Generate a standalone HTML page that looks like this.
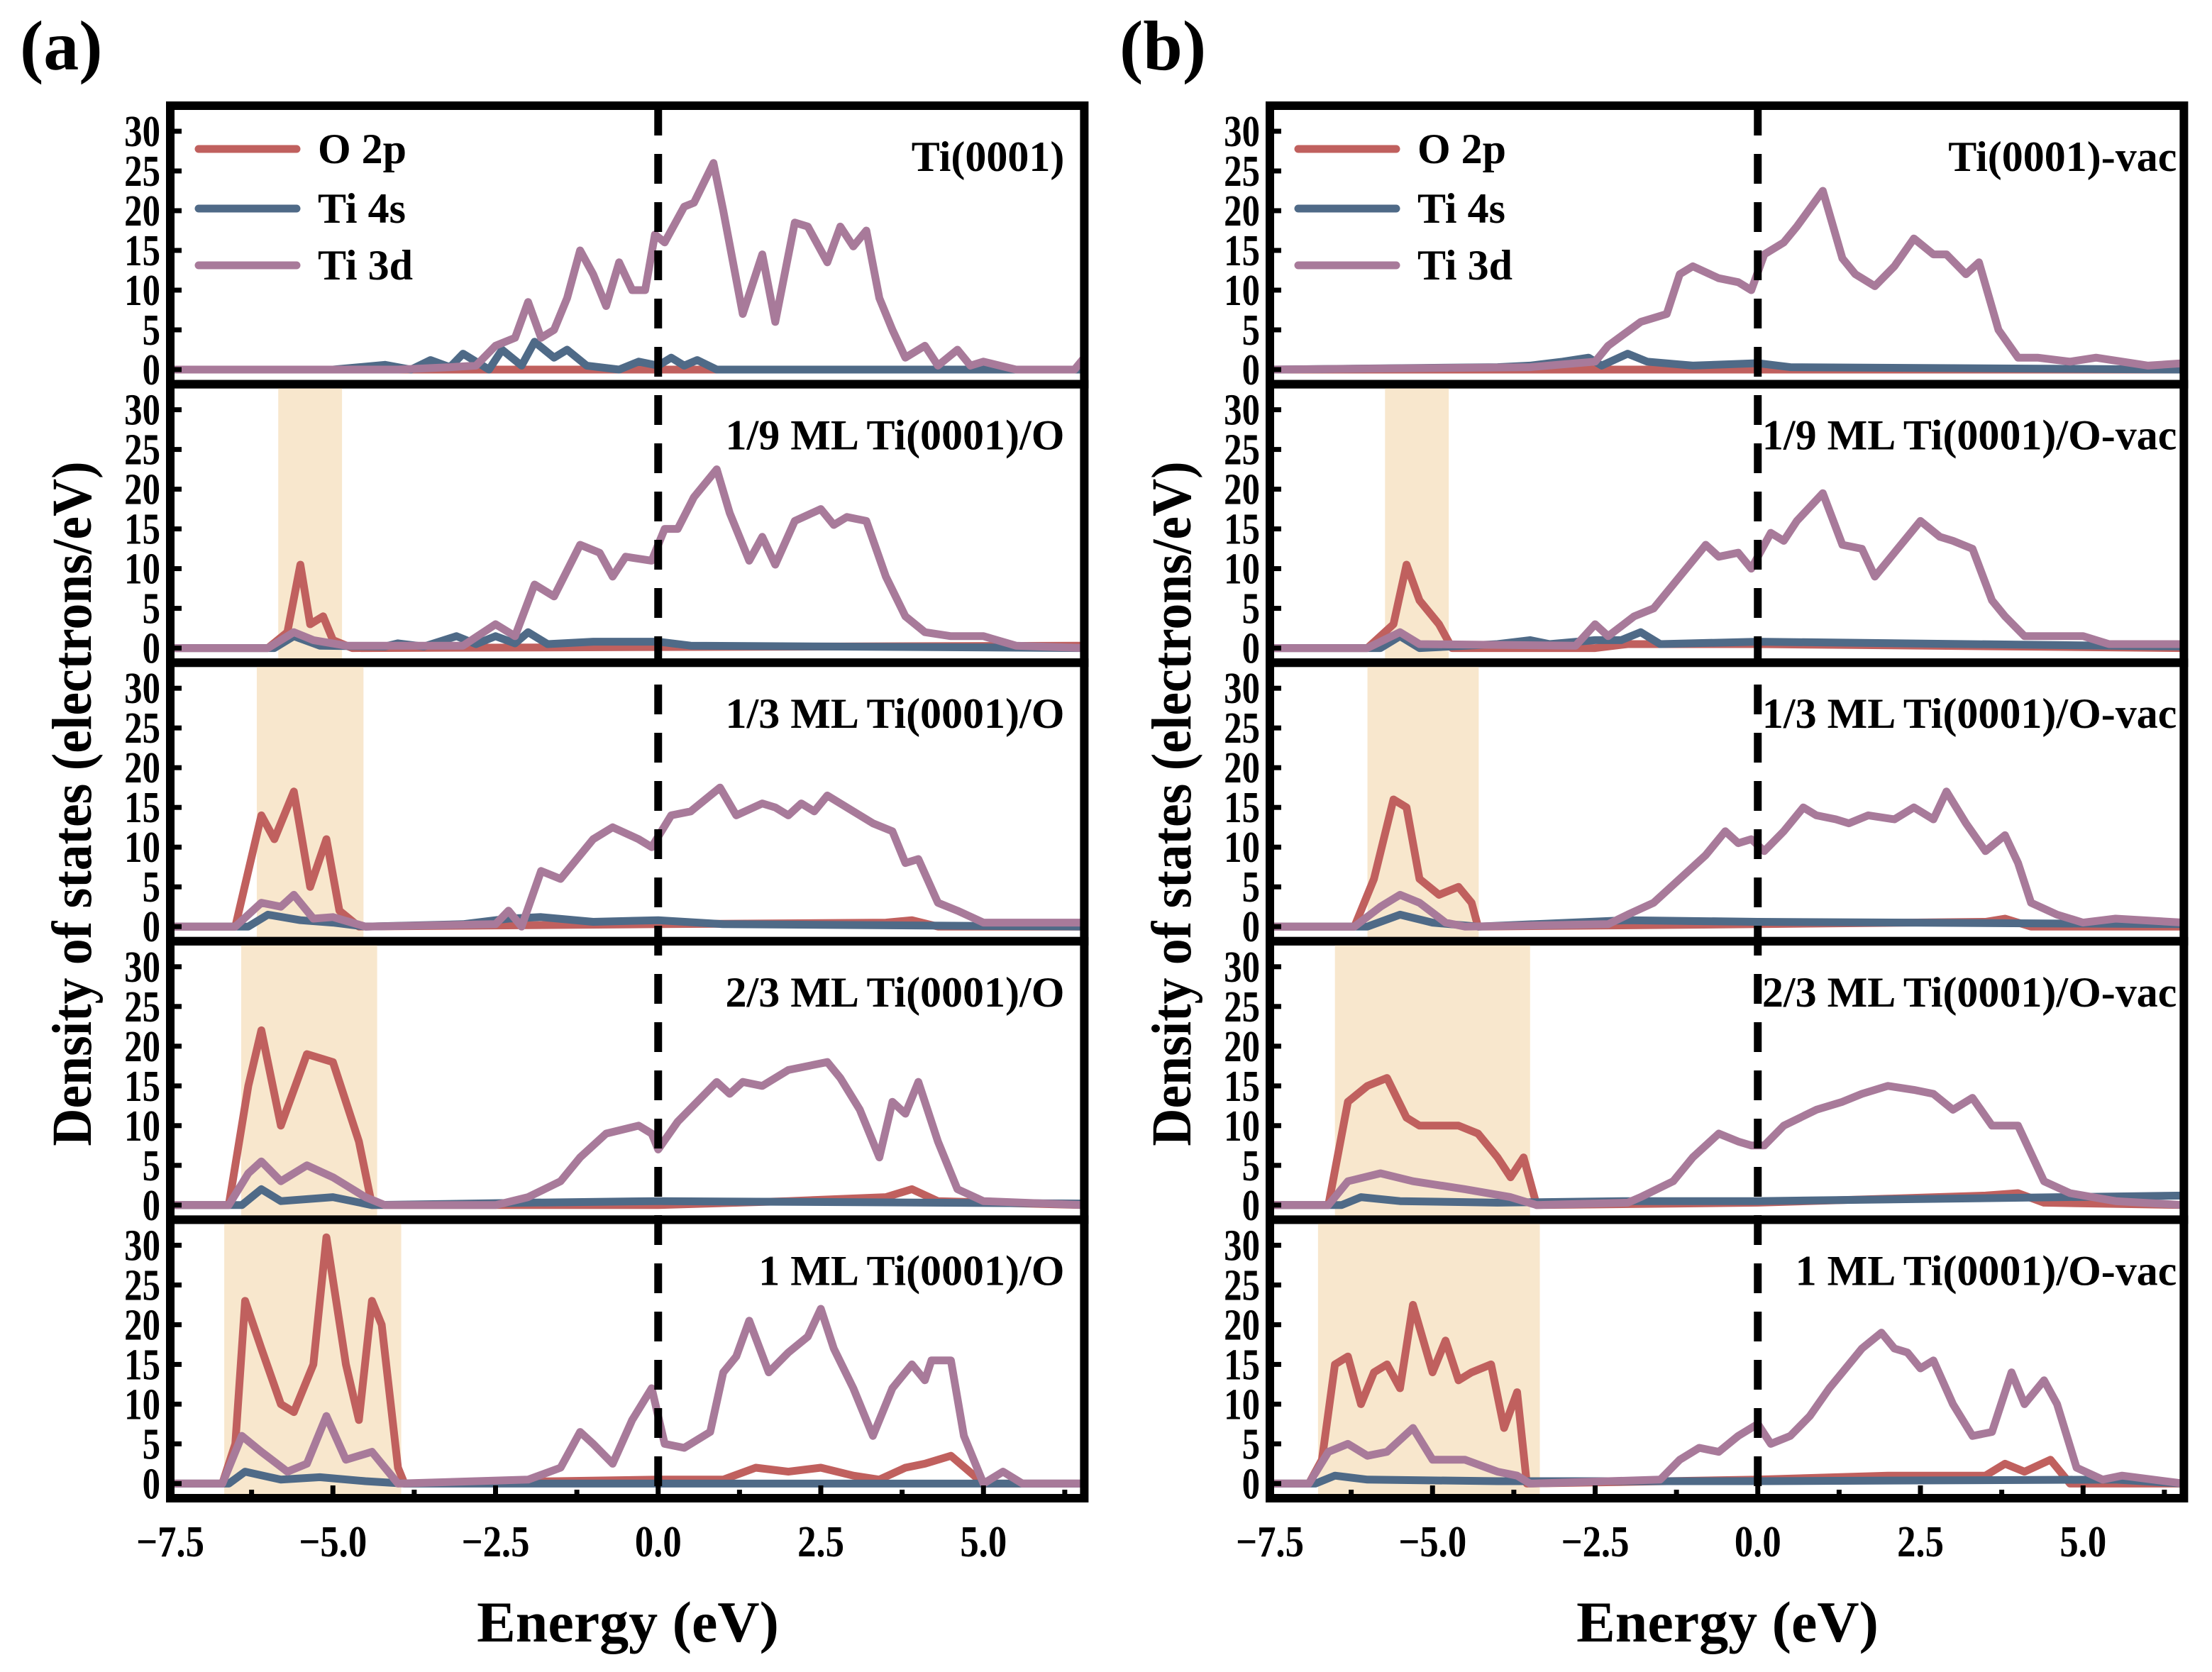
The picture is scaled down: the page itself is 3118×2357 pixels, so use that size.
<!DOCTYPE html>
<html><head><meta charset="utf-8"><style>
html,body{margin:0;padding:0;background:#fff;}
svg{display:block;}
text{font-family:"Liberation Serif",serif;font-weight:bold;fill:#000;}
</style></head>
<body>
<svg id="fig" xmlns="http://www.w3.org/2000/svg" width="3118" height="2357" viewBox="0 0 3118 2357">
<g id="root"></g>
</svg>
<script>
// ---- data ----
const yTicks = [0,5,10,15,20,25,30];
const xTicks = [-7.5,-5.0,-2.5,0.0,2.5,5.0];
const xTickLabels = ["\u22127.5","\u22125.0","\u22122.5","0.0","2.5","5.0"];
const legendNames = ["O 2p","Ti 4s","Ti 3d"];
const panelTitlesA = ["Ti(0001)","1/9 ML Ti(0001)/O","1/3 ML Ti(0001)/O","2/3 ML Ti(0001)/O","1 ML Ti(0001)/O"];
const panelTitlesB = ["Ti(0001)-vac","1/9 ML Ti(0001)/O-vac","1/3 ML Ti(0001)/O-vac","2/3 ML Ti(0001)/O-vac","1 ML Ti(0001)/O-vac"];
const shadeA = [null,[-5.84,-4.86],[-6.17,-4.53],[-6.41,-4.32],[-6.67,-3.95]];
const shadeB = [null,[-5.73,-4.75],[-6.0,-4.29],[-6.5,-3.5],[-6.76,-3.35]];

const a1_O = [[-7.5,0],[6.55,0]];
const a1_s = [[-7.5,0],[-5,0],[-4.2,0.6],[-3.8,0],[-3.5,1.2],[-3.2,0.3],[-3.0,2],[-2.6,0],[-2.4,2.5],[-2.1,0.5],[-1.9,3.5],[-1.6,1.5],[-1.4,2.5],[-1.1,0.5],[-0.6,0],[-0.3,1],[0,0.5],[0.2,1.5],[0.4,0.5],[0.6,1.2],[0.9,0],[6.55,0]];
const a1_d = [[-7.5,0],[-4,0],[-3.2,0.3],[-2.8,0.5],[-2.5,3],[-2.2,4],[-2.0,8.5],[-1.8,4],[-1.6,5],[-1.4,9],[-1.2,15],[-1.0,12],[-0.8,8],[-0.6,13.5],[-0.4,10],[-0.2,10],[-0.05,17],[0.1,16],[0.4,20.5],[0.55,21],[0.85,26],[1.0,20],[1.3,7],[1.6,14.5],[1.8,6],[2.1,18.5],[2.3,18],[2.6,13.5],[2.8,18],[3.0,15.5],[3.2,17.5],[3.4,9],[3.6,5],[3.8,1.5],[4.1,3],[4.3,0.5],[4.6,2.5],[4.8,0.5],[5.0,1],[5.5,0],[6.4,0],[6.55,1.5]];

const a2_O = [[-7.5,0],[-6,0],[-5.7,2],[-5.5,10.5],[-5.35,3],[-5.15,4],[-5,1],[-4.7,0],[6.55,0.3]];
const a2_s = [[-7.5,0],[-5.9,0],[-5.6,1.5],[-5.2,0.3],[-4.2,0.2],[-4.0,0.6],[-3.6,0.2],[-3.1,1.5],[-2.8,0.5],[-2.5,1.5],[-2.2,0.6],[-2.0,2],[-1.7,0.5],[-1,0.8],[0,0.8],[0.5,0.3],[6.55,0]];
const a2_d = [[-7.5,0],[-6,0],[-5.6,2],[-5.3,1],[-4.8,0.3],[-3,0.3],[-2.5,3],[-2.2,1.5],[-1.9,8],[-1.6,6.5],[-1.2,13],[-0.9,12],[-0.7,9],[-0.5,11.5],[-0.1,11],[0.1,15],[0.3,15],[0.55,19],[0.9,22.5],[1.1,17],[1.4,11],[1.6,14],[1.8,10.5],[2.1,16],[2.5,17.5],[2.7,15.5],[2.9,16.5],[3.2,16],[3.5,9],[3.8,4],[4.1,2],[4.5,1.5],[5,1.5],[5.5,0.3],[6.55,0]];

const a3_O = [[-7.5,0],[-6.5,0],[-6.1,14],[-5.9,11],[-5.6,17],[-5.35,5],[-5.1,11],[-4.9,2],[-4.6,0],[0,0.3],[3.5,0.5],[3.9,0.8],[4.3,0],[6.55,0]];
const a3_s = [[-7.5,0],[-6.3,0],[-6.0,1.5],[-5.5,0.8],[-5,0.5],[-4.5,0],[-3,0.3],[-2.3,1],[-1.8,1.2],[-1,0.6],[0,0.8],[1,0.3],[6.55,0]];
const a3_d = [[-7.5,0],[-6.5,0],[-6.1,3],[-5.8,2.5],[-5.6,4],[-5.3,1],[-5.0,1.2],[-4.5,0],[-2.5,0.3],[-2.3,2],[-2.1,0],[-1.8,7],[-1.5,6],[-1.0,11],[-0.7,12.5],[-0.3,11],[-0.1,10],[0.2,14],[0.5,14.5],[0.95,17.5],[1.2,14],[1.6,15.5],[1.8,15],[2.0,14],[2.2,15.5],[2.4,14.5],[2.6,16.5],[2.9,15],[3.3,13],[3.6,12],[3.8,8],[4.0,8.5],[4.3,3],[4.6,2],[5,0.5],[6.55,0.5]];

const a4_O = [[-7.5,0],[-6.6,0],[-6.3,15],[-6.1,22],[-5.8,10],[-5.4,19],[-5.0,18],[-4.6,8],[-4.4,0],[0,0],[2,0.5],[3.5,1],[3.9,2],[4.3,0.5],[6.55,0]];
const a4_s = [[-7.5,0],[-6.4,0],[-6.1,2],[-5.8,0.5],[-5,1],[-4.4,0],[-2,0.3],[0,0.5],[6.55,0.2]];
const a4_d = [[-7.5,0],[-6.6,0],[-6.3,4],[-6.1,5.5],[-5.8,3],[-5.4,5],[-5,3.5],[-4.5,1],[-4.2,0],[-2.5,0],[-2,1],[-1.5,3],[-1.2,6],[-0.8,9],[-0.3,10],[-0.1,9],[0,7],[0.3,10.5],[0.9,15.5],[1.1,14],[1.3,15.5],[1.6,15],[2.0,17],[2.6,18],[2.8,16],[3.1,12],[3.4,6],[3.6,13],[3.8,11.5],[4.0,15.5],[4.3,8],[4.6,2],[5,0.5],[6.55,0]];

const a5_O = [[-7.5,0],[-6.7,0],[-6.5,5],[-6.35,23],[-6.1,17],[-5.8,10],[-5.6,9],[-5.3,15],[-5.1,31],[-4.8,15],[-4.6,8],[-4.4,23],[-4.25,20],[-4.0,2],[-3.9,0],[0,0.5],[1,0.5],[1.5,2],[2.0,1.5],[2.5,2],[3,1],[3.4,0.5],[3.8,2],[4.1,2.5],[4.5,3.5],[5,0],[6.55,0]];
const a5_s = [[-7.5,0],[-6.6,0],[-6.35,1.5],[-5.8,0.5],[-5.2,0.8],[-4.5,0.3],[-3.9,0],[6.55,0]];
const a5_d = [[-7.5,0],[-6.7,0],[-6.4,6],[-6.1,4],[-5.7,1.5],[-5.4,2.5],[-5.1,8.5],[-4.8,3],[-4.4,4],[-4.2,2],[-4.0,0],[-2,0.5],[-1.5,2],[-1.2,6.5],[-1.0,5],[-0.7,2.5],[-0.4,8],[-0.1,12],[0.1,5],[0.4,4.5],[0.8,6.5],[1.0,14],[1.2,16],[1.4,20.5],[1.7,14],[2.0,16.5],[2.3,18.5],[2.5,22],[2.7,17],[3.0,12],[3.3,6],[3.6,12],[3.9,15],[4.1,13],[4.2,15.5],[4.5,15.5],[4.7,6],[5.0,0],[5.3,1.5],[5.6,0],[6.55,0]];

const b1_O = [[-7.5,0],[6.55,0]];
const b1_s = [[-7.5,0],[-4,0.3],[-3.5,0.5],[-3,1],[-2.6,1.5],[-2.4,0.5],[-2,2],[-1.7,1],[-1,0.5],[0,0.8],[0.5,0.3],[6.55,0]];
const b1_d = [[-7.5,0],[-3.5,0.3],[-2.5,1],[-2.3,3],[-1.8,6],[-1.4,7],[-1.2,12],[-1.0,13],[-0.6,11.5],[-0.3,11],[-0.1,10],[0.1,14.5],[0.4,16],[0.6,18],[1.0,22.5],[1.3,14],[1.5,12],[1.8,10.5],[2.1,13],[2.4,16.5],[2.7,14.5],[2.9,14.5],[3.2,12],[3.4,13.5],[3.7,5],[4.0,1.5],[4.3,1.5],[4.8,1],[5.2,1.5],[6,0.5],[6.55,0.8]];

const b2_O = [[-7.5,0],[-6,0],[-5.6,3],[-5.4,10.5],[-5.2,6],[-4.9,3],[-4.7,0],[-2.5,0],[-2,0.5],[0,0.5],[6.55,0]];
const b2_s = [[-7.5,0],[-5.8,0],[-5.5,1.5],[-5.2,0],[-4,0.5],[-3.5,1],[-3.2,0.5],[-2.5,1],[-2.1,1],[-1.8,2],[-1.5,0.5],[0,0.8],[6.55,0.2]];
const b2_d = [[-7.5,0],[-6,0],[-5.5,2],[-5.2,0.5],[-2.8,0.3],[-2.5,3],[-2.3,1.5],[-1.9,4],[-1.6,5],[-1.2,9],[-0.8,13],[-0.6,11.5],[-0.3,12],[-0.1,10],[0.2,14.5],[0.4,13.5],[0.6,16],[1.0,19.5],[1.3,13],[1.6,12.5],[1.8,9],[2.1,12],[2.5,16],[2.8,14],[3.0,13.5],[3.3,12.5],[3.6,6],[3.8,4],[4.1,1.5],[4.6,1.5],[5.0,1.5],[5.4,0.5],[6.55,0.5]];

const b3_O = [[-7.5,0],[-6.2,0],[-5.9,6],[-5.6,16],[-5.4,15],[-5.2,6],[-4.9,4],[-4.6,5],[-4.4,3],[-4.3,0],[0,0.3],[3.5,0.6],[3.8,1],[4.2,0],[6.55,0]];
const b3_s = [[-7.5,0],[-6,0],[-5.5,1.5],[-5,0.5],[-4.3,0],[-2,0.8],[0,0.6],[6.55,0.3]];
const b3_d = [[-7.5,0],[-6.2,0],[-5.8,2.5],[-5.5,4],[-5.2,3],[-4.8,0.5],[-4.5,0],[-2.3,0.3],[-2.0,1.5],[-1.6,3],[-1.2,6],[-0.8,9],[-0.5,12],[-0.3,10.5],[-0.1,11],[0.1,9.5],[0.4,12],[0.7,15],[0.9,14],[1.2,13.5],[1.4,13],[1.7,14],[2.1,13.5],[2.4,15],[2.7,13.5],[2.9,17],[3.2,13],[3.5,9.5],[3.8,11.5],[4.0,8],[4.2,3],[4.6,1.5],[5,0.5],[5.5,1],[6.55,0.5]];

const b4_O = [[-7.5,0],[-6.6,0],[-6.3,13],[-6.0,15],[-5.7,16],[-5.4,11],[-5.2,10],[-4.9,10],[-4.6,10],[-4.3,9],[-4.0,6],[-3.8,3.5],[-3.6,6],[-3.4,0],[0,0.3],[2,0.8],[3.5,1.2],[4.0,1.5],[4.4,0.3],[6.55,0]];
const b4_s = [[-7.5,0],[-6.4,0],[-6.1,1],[-5.5,0.5],[-4,0.3],[-2,0.5],[0,0.5],[6.55,1.2]];
const b4_d = [[-7.5,0],[-6.6,0],[-6.3,3],[-5.8,4],[-5.3,3],[-4.5,2],[-3.8,1],[-3.4,0],[-2,0.3],[-1.8,1],[-1.3,3],[-1.0,6],[-0.6,9],[-0.3,8],[-0.1,7.5],[0.1,7.5],[0.4,10],[0.9,12],[1.3,13],[1.6,14],[2.0,15],[2.4,14.5],[2.7,14],[3.0,12],[3.3,13.5],[3.6,10],[4.0,10],[4.4,3],[4.8,1.5],[5.5,0.5],[6.55,0]];

const b5_O = [[-7.5,0],[-6.9,0],[-6.7,3],[-6.5,15],[-6.3,16],[-6.1,10],[-5.9,14],[-5.7,15],[-5.5,12],[-5.3,22.5],[-5.0,14],[-4.8,18],[-4.6,13],[-4.4,14],[-4.1,15],[-3.9,7],[-3.7,11.5],[-3.55,0],[0,0.5],[2,1],[3.5,1],[3.8,2.5],[4.1,1.5],[4.5,3],[4.8,0],[6.55,0]];
const b5_s = [[-7.5,0],[-6.8,0],[-6.5,1],[-6,0.5],[-4,0.3],[0,0.3],[5.5,0.5],[6.55,0]];
const b5_d = [[-7.5,0],[-6.9,0],[-6.6,4],[-6.3,5],[-6.0,3.5],[-5.7,4],[-5.3,7],[-5.0,3],[-4.5,3],[-4,1.5],[-3.7,1],[-3.5,0],[-1.5,0.5],[-1.2,3],[-0.9,4.5],[-0.6,4],[-0.3,6],[0,7.5],[0.2,5],[0.5,6],[0.8,8.5],[1.1,12],[1.3,14],[1.6,17],[1.9,19],[2.1,17],[2.3,16.5],[2.5,14.5],[2.7,15.5],[3.0,10],[3.3,6],[3.6,6.5],[3.9,14],[4.1,10],[4.4,13],[4.6,10],[4.9,2],[5.3,0.5],[5.6,1],[6.55,0]];

const seriesA = [[a1_O,a1_s,a1_d],[a2_O,a2_s,a2_d],[a3_O,a3_s,a3_d],[a4_O,a4_s,a4_d],[a5_O,a5_s,a5_d]];
const seriesB = [[b1_O,b1_s,b1_d],[b2_O,b2_s,b2_d],[b3_O,b3_s,b3_d],[b4_O,b4_s,b4_d],[b5_O,b5_s,b5_d]];

// ---- layout ----
const NS = "http://www.w3.org/2000/svg";
const root = document.getElementById('root');
const colors = ["#c0605e","#4f6a87","#a87a9a"];
const PTOP = 149, PITCH = 392.6, XMIN = -7.5, XMAX = 6.55, UNIT = 91.7;
const panelsLeft = [240, 1790];
function mk(tag, attrs, parent){ const e=document.createElementNS(NS,tag); for(const k in attrs) e.setAttribute(k,attrs[k]); (parent||root).appendChild(e); return e; }
function xs(e, left){ return left + (e - XMIN) * UNIT; }
function ys(v, i){ return PTOP + i*PITCH + 372 - v*(336/30); }
function pathFrom(pts, left, i){
  return pts.map((p,k)=>(k?"L":"M")+xs(p[0],left).toFixed(1)+","+ys(p[1],i).toFixed(1)).join(" ");
}
function condText(parent, x, y, str, size, anchor, sx){
  const t = mk('text',{x:0,y:0,'text-anchor':anchor,'font-size':size,transform:'translate('+x+','+y+') scale('+sx+',1)'},parent);
  t.textContent = str;
  return t;
}

[[panelsLeft[0],panelTitlesA,shadeA,seriesA,'a'],[panelsLeft[1],panelTitlesB,shadeB,seriesB,'b']].forEach(([left,titles,shades,series,tag])=>{
  const right = xs(XMAX,left);
  const W = right-left;
  const g = mk('g',{});
  
  
  for(let i=0;i<5;i++){
    const top = PTOP + i*PITCH, H = PITCH;
    const pg = mk('g',{},g);
    
    
    const cid = 'clip'+tag+i;
    const cp = mk('clipPath',{id:cid},pg);
    mk('rect',{x:left,y:top,width:W,height:H},cp);
    if(shades[i]){
      const r = mk('rect',{x:xs(shades[i][0],left),y:top,width:xs(shades[i][1],left)-xs(shades[i][0],left),height:H,fill:"#f8e7cd"},pg);
      
      
    }
    const lg = mk('g',{'clip-path':'url(#'+cid+')'},pg);
    [0,1,2].forEach(s=>{
      const p = mk('path',{d:pathFrom(series[i][s],left,i),fill:'none',stroke:colors[s],'stroke-width':11,'stroke-linejoin':'round','stroke-linecap':'round'},lg);
      
      
    });
    yTicks.forEach(v=>{
      mk('line',{x1:left,x2:left+16,y1:ys(v,i),y2:ys(v,i),stroke:'#000','stroke-width':7},pg);
      const t = condText(pg, left-14, ys(v,i)+21, String(v), 62, 'end', 0.82);
      
      
    });
    const tt = mk('text',{x: tag==='a'? right-28 : right-10, y: top+92,'text-anchor':'end','font-size':60},pg);
    tt.textContent = titles[i];
    
    
    mk('rect',{x:left,y:top,width:W,height:H,fill:'none',stroke:'#000','stroke-width':12},pg);
  }
  const z = mk('line',{x1:xs(0,left),x2:xs(0,left),y1:PTOP,y2:PTOP+5*PITCH,stroke:'#000','stroke-width':11,'stroke-dasharray':'42,26'},g);
  
  
  const bottom = PTOP+5*PITCH;
  for(let e=-6.25;e<=6.3;e+=1.25){
    const major = Math.abs(e/2.5-Math.round(e/2.5))<1e-6;
    mk('line',{x1:xs(e,left),x2:xs(e,left),y1:bottom,y2:bottom-(major?18:12),stroke:'#000','stroke-width':7},g);
  }
  xTicks.forEach((e,k)=>{
    const t = condText(g, xs(e,left), bottom+82, xTickLabels[k], 62, 'middle', 0.85);
    
    
  });
  const xt = mk('text',{x:left+645,y:2314,'text-anchor':'middle','font-size':82},g);
  xt.textContent = 'Energy (eV)';
  
  
  const yt = mk('text',{x:0,y:0,'text-anchor':'middle','font-size':80,transform:'translate('+(left-112)+',1133) rotate(-90) scale(0.92,1)'},g);
  yt.textContent = 'Density of states (electrons/eV)';
  
  
  const pl = mk('text',{x:left-212,y:98,'font-size':100},g);
  pl.textContent = '('+tag+')';
  
  
  const leg = mk('g',{},g);
  
  
  const ly = [210,294,374];
  [0,1,2].forEach(s=>{
    const e = mk('g',{},leg);
    
    
    mk('line',{x1:left+40,x2:left+178,y1:ly[s],y2:ly[s],stroke:colors[s],'stroke-width':11,'stroke-linecap':'round'},e);
    const t = mk('text',{x:left+208,y:ly[s]+20,'font-size':60},e);
    t.textContent = legendNames[s];
  });
});
</script>
</body></html>
